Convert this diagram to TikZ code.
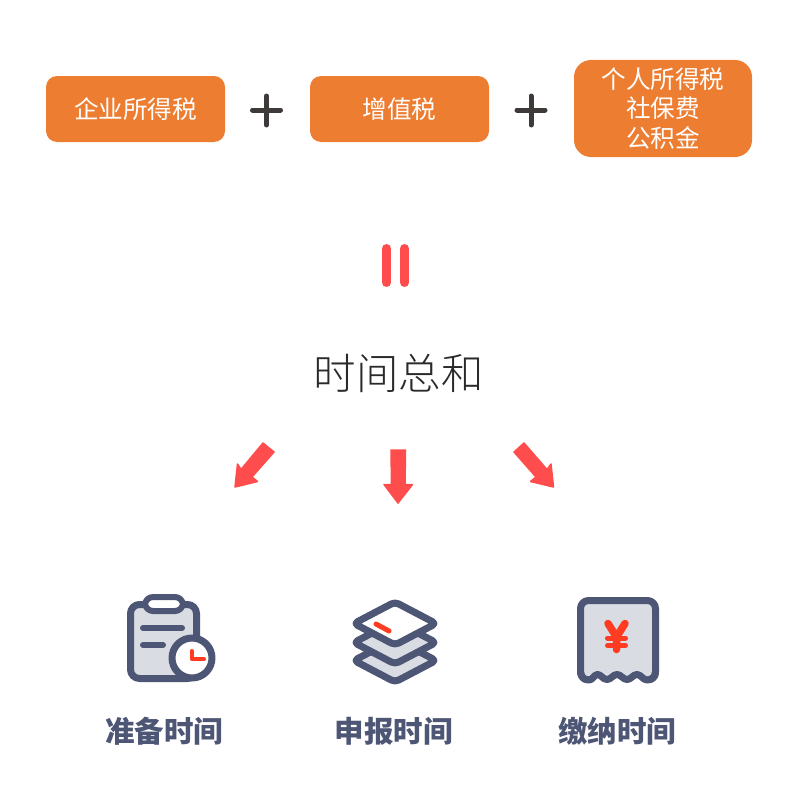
\documentclass[tikz,border=0pt]{standalone}
\usepackage{fontspec}
\setmainfont{Noto Sans CJK SC}
\newfontfamily\thincjk{Noto Sans CJK SC Light}
\definecolor{boxorange}{HTML}{ED7D31}
\definecolor{plusdark}{HTML}{3E3A39}
\definecolor{arrowred}{HTML}{FF4D4D}
\definecolor{iconnavy}{HTML}{4E5675}
\definecolor{iconfill}{HTML}{D9DDE3}
\definecolor{iconred}{HTML}{FF3B22}
\definecolor{sumtext}{HTML}{2A2A2A}
\tikzset{
 taxbox/.style={fill=boxorange,rounded corners=11pt,inner sep=0pt,text=white,align=center,font=\fontsize{24.6}{29.5}\selectfont},
 plusline/.style={draw=plusdark,line width=5pt,line cap=round},
 equalbar/.style={draw=arrowred,line width=9pt,line cap=round},
 redarrow/.style={fill=arrowred,draw=arrowred,line width=1.5pt,line join=round},
 iconline/.style={draw=iconnavy,line width=7pt,line join=round,line cap=round},
 accent/.style={draw=iconred,line cap=round,line join=round},
 timelabel/.style={text=iconnavy,font=\fontsize{29.5}{31}\selectfont\bfseries},
}
\begin{document}
\begin{tikzpicture}[x=1pt,y=-1pt]
\useasboundingbox (0,0) rectangle (800,800);
\node[taxbox,minimum width=179pt,minimum height=66pt] (income) at (135.5,109) {企业所得税};
\node[taxbox,minimum width=179pt,minimum height=66pt] (vat) at (399.5,109) {增值税};
\node[taxbox,rounded corners=17pt,minimum width=178pt,minimum height=97pt] (personal) at (663,108.5) {个人所得税\\社保费\\公积金};
\draw[plusline] (252.5,110) -- (280.5,110) (266.5,96) -- (266.5,125);
\draw[plusline] (517,110) -- (545,110) (531,96) -- (531,125);
\draw[equalbar] (386.5,248.5) -- (386.5,282.5) (404.5,248.5) -- (404.5,282.5);
\node[text=sumtext,font=\fontsize{42.5}{44}\thincjk] (total) at (398.5,373) {时间总和};
% arrows
\filldraw[redarrow] (263,443) -- (274,452) -- (252,477) -- (257.5,481.5) -- (235,487) -- (237.5,464) -- (241,469.5) -- cycle;
\filldraw[redarrow] (391,450) -- (405.5,450) -- (405,484.5) -- (412.5,484.5) -- (398,503) -- (384,484.5) -- (391.5,484.5) -- cycle;
\filldraw[redarrow] (524,443) -- (514,452) -- (536,477) -- (530.5,481.5) -- (553.5,487) -- (551,464) -- (547,469.5) -- cycle;
% clipboard
\draw[iconline,fill=iconfill,rounded corners=9pt] (130.5,604.5) rectangle (196.5,678.5);
\draw[iconline,line width=6pt,fill=white,rounded corners=8pt] (145,597) rectangle (183,611);
\draw[iconline,line width=6pt] (143,628) -- (182,628) (143,645) -- (163,645);
\filldraw[iconline,fill=white] (192,658) circle (20);
\draw[accent,line width=4pt] (191.5,651) -- (191.5,659) -- (204,659);
% layers
\draw[iconline,fill=iconfill,rounded corners=4pt] (395,639) -- (436,660.5) -- (395,682) -- (354,660.5) -- cycle;
\draw[iconline,fill=iconfill,rounded corners=4pt] (395,621) -- (436,642.5) -- (395,664) -- (354,642.5) -- cycle;
\draw[iconline,fill=white,rounded corners=4pt] (395,602) -- (436,623.5) -- (395,645) -- (354,623.5) -- cycle;
\draw[accent,line width=5pt] (376,624) -- (389,631);
% receipt
\draw[iconline,fill=iconfill,rounded corners=8pt] (580.5,600.5) -- (655.5,600.5) -- (655.5,680) -- (580.5,680) -- cycle;
\fill[white] (584,677.2) .. controls (587,680) and (592,680) .. (597,675.5) .. controls (600,673) and (604,679.5) .. (607,679.5) .. controls (610,679.5) and (614,673) .. (617,675.5) .. controls (620,679) and (624,679.5) .. (627,679.5) .. controls (630,679.5) and (634,673) .. (637,675.5) .. controls (640,679) and (646,680) .. (652,677) -- (652,684) -- (584,684) -- cycle;
\draw[iconline,line width=7pt] (580.5,672) .. controls (581,678) and (585,680) .. (589,680) .. controls (593,680) and (594,674.5) .. (597.5,674.5) .. controls (601,674.5) and (603,679.5) .. (607,679.5) .. controls (611,679.5) and (613,674.5) .. (617,674.5) .. controls (621,674.5) and (623,679.5) .. (627,679.5) .. controls (631,679.5) and (633,674.5) .. (637,674.5) .. controls (641,674.5) and (643,680) .. (647,680) .. controls (651,680) and (655.5,678) .. (655.5,672);
\draw[accent,line width=7.5pt] (608,623.5) -- (616.5,637) -- (625,623.5) (616.5,637) -- (616.5,649.5);
\draw[accent,line width=5pt] (607.5,638) -- (625.5,638) (607.5,645.5) -- (625.5,645.5);
% labels
\node[timelabel] (prep) at (164,731) {准备时间};
\node[timelabel] (report) at (393.5,731) {申报时间};
\node[timelabel] (pay) at (617,731) {缴纳时间};
\end{tikzpicture}
\end{document}
